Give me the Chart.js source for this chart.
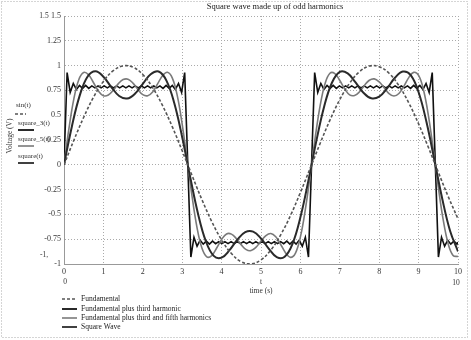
<!DOCTYPE html>
<html>
<head>
<meta charset="utf-8">
<script src="https://cdn.jsdelivr.net/npm/chart.js@4/dist/chart.umd.min.js"></script>
<style>
  html, body { margin: 0; padding: 0; background: #fff; }
  #wrap { width: 471px; height: 340px; position: relative; }
</style>
</head>
<body>
<div id="wrap"><canvas id="chart"></canvas></div>
<script>
// values
const title = "Square wave made up of odd harmonics";
const seriesNames = ["Fundamental", "Fundamental plus third harmonic", "Fundamental plus third and fifth harmonics", "Square Wave"];
const seriesSymbols = ["sin(t)", "square_3(t)", "square_5(t)", "square(t)"];
const yTicks = [-1, -0.75, -0.5, -0.25, 0, 0.25, 0.5, 0.75, 1, 1.25, 1.5];
const yTickLabels = ["-1", "-0.75", "-0.5", "-0.25", "0", "0.25", "0.5", "0.75", "1", "1.25", "1.5"];
const xTicks = [0, 1, 2, 3, 4, 5, 6, 7, 8, 9, 10];
const xTickLabels = ["0", "1", "2", "3", "4", "5", "6", "7", "8", "9", "10"];

const tFund = [0,0.25,0.5,0.75,1,1.25,1.5,1.75,2,2.25,2.5,2.75,3,3.25,3.5,3.75,4,4.25,4.5,4.75,5,
  5.25,5.5,5.75,6,6.25,6.5,6.75,7,7.25,7.5,7.75,8,8.25,8.5,8.75,9,9.25,9.5,9.75,10];
const yFund = [0,0.247,0.479,0.682,0.841,0.949,0.997,0.984,0.909,0.778,0.598,0.382,0.141,-0.108,-0.351,
  -0.572,-0.757,-0.895,-0.978,-0.999,-0.959,-0.859,-0.706,-0.510,-0.279,-0.033,0.215,0.451,0.657,0.823,
  0.938,0.995,0.989,0.923,0.798,0.625,0.412,0.174,-0.075,-0.319,-0.544];

const t3 = [0,0.2,0.4,0.6,0.8,1,1.2,1.4,1.6,1.8,2,2.2,2.4,2.6,2.8,3,3.2,3.4,3.6,3.8,4,4.2,4.4,4.6,4.8,5,
  5.2,5.4,5.6,5.8,6,6.2,6.4,6.6,6.8,7,7.2,7.4,7.6,7.8,8,8.2,8.4,8.6,8.8,9,9.2,9.4,9.6,9.8,10];
const y3 = [0,0.387,0.700,0.890,0.942,0.888,0.784,0.694,0.668,0.716,0.816,0.912,0.940,0.849,0.620,0.278,
  -0.117,-0.490,-0.770,-0.918,-0.936,-0.861,-0.755,-0.679,-0.674,-0.742,-0.847,-0.931,-0.927,-0.796,-0.529,
  -0.165,0.231,0.583,0.827,0.936,0.921,0.830,0.727,0.670,0.687,0.771,0.877,0.940,0.903,0.731,0.431,0.050,
  -0.342,-0.668,-0.873];

const t5 = [0,0.125,0.25,0.375,0.5,0.625,0.75,0.875,1,1.125,1.25,1.375,1.5,1.625,1.75,1.875,2,2.125,2.25,
  2.375,2.5,2.625,2.75,2.875,3,3.125,3.25,3.375,3.5,3.625,3.75,3.875,4,4.125,4.25,4.375,4.5,4.625,4.75,
  4.875,5,5.125,5.25,5.375,5.5,5.625,5.75,5.875,6,6.125,6.25,6.375,6.5,6.625,6.75,6.875,7,7.125,7.25,
  7.375,7.5,7.625,7.75,7.875,8,8.125,8.25,8.375,8.5,8.625,8.75,8.875,9,9.125,9.25,9.375,9.5,9.625,9.75,
  9.875,10];
const y5 = [0,0.364,0.664,0.858,0.931,0.906,0.827,0.743,0.696,0.703,0.751,0.816,0.859,0.863,0.823,0.760,
  0.707,0.696,0.734,0.815,0.898,0.932,0.874,0.697,0.408,0.050,-0.317,-0.630,-0.839,-0.928,-0.915,-0.839,
  -0.753,-0.697,-0.699,-0.744,-0.807,-0.855,-0.864,-0.830,-0.769,-0.713,-0.693,-0.726,-0.803,-0.888,-0.933,
  -0.890,-0.727,-0.451,-0.099,0.272,0.594,0.818,0.923,0.920,0.850,0.764,0.705,0.699,0.736,0.800,0.852,
  0.866,0.836,0.778,0.718,0.693,0.719,0.791,0.879,0.932,0.901,0.754,0.494,0.149,-0.224,-0.556,-0.795,
  -0.914,-0.925];

const tSq = [0,0.079,0.157,0.236,0.314,0.393,0.471,0.550,0.628,0.707,0.785,0.864,0.942,1.021,1.100,1.178,
  1.257,1.335,1.414,1.492,1.571,1.649,1.728,1.806,1.885,1.963,2.042,2.121,2.199,2.278,2.356,2.435,2.513,
  2.592,2.670,2.749,2.827,2.906,2.985,3.063,3.142,3.220,3.299,3.377,3.456,3.534,3.613,3.691,3.770,3.848,
  3.927,4.006,4.084,4.163,4.241,4.320,4.398,4.477,4.555,4.634,4.712,4.791,4.869,4.948,5.027,5.105,5.184,
  5.262,5.341,5.419,5.498,5.576,5.655,5.733,5.812,5.890,5.969,6.048,6.126,6.205,6.283,6.362,6.440,6.519,
  6.597,6.676,6.754,6.833,6.912,6.990,7.069,7.147,7.226,7.304,7.383,7.461,7.540,7.618,7.697,7.775,7.854,
  7.933,8.011,8.090,8.168,8.247,8.325,8.404,8.482,8.561,8.639,8.718,8.796,8.875,8.954,9.032,9.111,9.189,
  9.268,9.346,9.425,9.503,9.582,9.660,9.739,9.817,9.896,9.975,10];
const ySq = [0,0.93,0.73,0.82,0.76,0.80,0.77,0.80,0.77,0.795,0.775,0.795,0.775,0.795,0.775,0.795,0.775,
  0.795,0.775,0.795,0.775,0.795,0.775,0.795,0.775,0.795,0.775,0.795,0.775,0.795,0.775,0.795,0.77,0.80,
  0.77,0.80,0.76,0.82,0.73,0.93,0,
  -0.93,-0.73,-0.82,-0.76,-0.80,-0.77,-0.80,-0.77,-0.795,-0.775,-0.795,-0.775,-0.795,-0.775,-0.795,-0.775,
  -0.795,-0.775,-0.795,-0.775,-0.795,-0.775,-0.795,-0.775,-0.795,-0.775,-0.795,-0.775,-0.795,-0.775,-0.795,
  -0.77,-0.80,-0.77,-0.80,-0.76,-0.82,-0.73,-0.93,0,
  0.93,0.73,0.82,0.76,0.80,0.77,0.80,0.77,0.795,0.775,0.795,0.775,0.795,0.775,0.795,0.775,0.795,0.775,
  0.795,0.775,0.795,0.775,0.795,0.775,0.795,0.775,0.795,0.775,0.795,0.775,0.795,0.77,0.80,0.77,0.80,0.76,
  0.82,0.73,0.93,0,
  -0.93,-0.73,-0.82,-0.76,-0.80,-0.77,-0.80,-0.78];

const SERIF = "'Liberation Serif', 'DejaVu Serif', serif";

function pts(xs, ys) {
    return xs.map((x, i) => ({ x: x, y: ys[i] }));
}

const styles = [
    { color: "#555", width: 1.6, dash: [3, 2], tension: 0.4 },
    { color: "#2a2a2a", width: 2, dash: [], tension: 0.4 },
    { color: "#7a7a7a", width: 1.6, dash: [], tension: 0.4 },
    { color: "#111", width: 1.6, dash: [], tension: 0 }
];
const series = [pts(tFund, yFund), pts(t3, y3), pts(t5, y5), pts(tSq, ySq)];

// all the Mathcad-style text around the plot
const decor = {
    id: "decor",
    afterDraw(chart) {
        const ctx = chart.ctx;
        const area = chart.chartArea;
        ctx.save();

        // dotted frame round the whole picture
        ctx.strokeStyle = "#aaa";
        ctx.lineWidth = 1;
        ctx.setLineDash([1, 2]);
        ctx.strokeRect(1.5, 1.5, 466, 336);
        ctx.setLineDash([]);

        ctx.fillStyle = "#222";
        ctx.textBaseline = "middle";
        ctx.textAlign = "center";
        ctx.font = "8.5px " + SERIF;
        ctx.fillText(title, 275, 7);

        ctx.font = "7.5px " + SERIF;
        ctx.fillStyle = "#333";
        ctx.fillText("1.5", 44, 16);
        ctx.fillText("-1,", 44, 255);
        ctx.fillText("0", 65, 282);
        ctx.fillText("t", (area.left + area.right) / 2, 282);
        ctx.fillText("10", 456, 283);
        ctx.fillText("time (s)", (area.left + area.right) / 2, 291);

        // rotated y title
        ctx.save();
        ctx.translate(10, 136);
        ctx.rotate(-Math.PI / 2);
        ctx.fillText("Voltage (V)", 0, 0);
        ctx.restore();

        // left symbol legend
        const symY = [105, 123, 139, 156];
        ctx.textAlign = "left";
        ctx.font = "7px " + SERIF;
        seriesSymbols.forEach((s, i) => {
            const st = styles[i];
            ctx.fillStyle = "#333";
            ctx.fillText(s, i === 0 ? 16 : 18, symY[i]);
            ctx.strokeStyle = st.color;
            ctx.lineWidth = st.width;
            ctx.setLineDash(st.dash);
            ctx.beginPath();
            const y = symY[i] + (i === 0 ? 9 : 7);
            ctx.moveTo(i === 0 ? 15 : 18, y);
            ctx.lineTo(i === 0 ? 26 : 34, y);
            ctx.stroke();
            ctx.setLineDash([]);
        });

        // bottom legend
        const legY = [299, 309, 318, 327];
        ctx.font = "7.5px " + SERIF;
        seriesNames.forEach((s, i) => {
            const st = styles[i];
            ctx.strokeStyle = st.color;
            ctx.lineWidth = st.width;
            ctx.setLineDash(st.dash);
            ctx.beginPath();
            ctx.moveTo(62, legY[i]);
            ctx.lineTo(77, legY[i]);
            ctx.stroke();
            ctx.setLineDash([]);
            ctx.fillStyle = "#222";
            ctx.fillText(s, 81, legY[i]);
        });
        ctx.restore();
    }
};

new Chart(document.getElementById("chart"), {
    type: "line",
    data: {
        datasets: series.map((d, i) => ({
            label: seriesNames[i],
            data: d,
            borderColor: styles[i].color,
            borderWidth: styles[i].width,
            borderDash: styles[i].dash,
            tension: styles[i].tension,
            pointRadius: 0,
            fill: false
        }))
    },
    options: {
        responsive: true,
        maintainAspectRatio: false,
        animation: false,
        layout: { padding: { left: 24, right: 13, top: 16, bottom: 62 } },
        plugins: { legend: { display: false }, tooltip: { enabled: false } },
        scales: {
            x: {
                type: "linear",
                min: 0,
                max: 10,
                afterBuildTicks: s => { s.ticks = xTicks.map(v => ({ value: v })); },
                afterFit: s => { s.height = 14; },
                grid: { color: "#aaa", lineWidth: 1, borderDash: [1, 2], drawTicks: false },
                border: { display: true, color: "#999", dash: [1, 2] },
                ticks: {
                    color: "#333", padding: 3, maxRotation: 0, autoSkip: false,
                    font: { family: SERIF, size: 8 },
                    callback: (v) => xTickLabels[xTicks.indexOf(v)]
                }
            },
            y: {
                min: -1,
                max: 1.5,
                afterBuildTicks: s => { s.ticks = yTicks.map(v => ({ value: v })); },
                afterFit: s => { s.width = 40; },
                grid: { color: "#aaa", lineWidth: 1, borderDash: [1, 2], drawTicks: false },
                border: { display: true, color: "#999", dash: [1, 2] },
                ticks: {
                    color: "#333", padding: 3, autoSkip: false,
                    font: { family: SERIF, size: 8 },
                    callback: (v) => yTickLabels[yTicks.indexOf(v)]
                }
            }
        }
    },
    plugins: [decor]
});
</script>
</body>
</html>
